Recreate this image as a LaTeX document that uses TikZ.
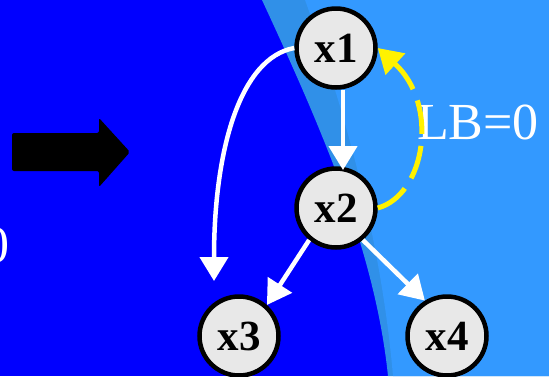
\documentclass[tikz,border=0pt]{standalone}
\usepackage{fontspec}
\setmainfont{Liberation Serif}
\usetikzlibrary{arrows.meta}
\definecolor{bgblue}{HTML}{0000FF}
\definecolor{lightblue}{HTML}{3399FF}
\definecolor{bandblue}{HTML}{3090E8}
\definecolor{nodegray}{HTML}{E8E8E8}
\begin{document}
\begin{tikzpicture}[x=1pt,y=-1pt,
  vnode/.style={circle,draw=black,line width=4.5pt,fill=nodegray,minimum size=79pt,inner sep=0pt,font=\fontsize{43}{43}\selectfont\bfseries},
  warrow/.style={draw=white,line width=4.5pt,-{Triangle[length=24pt,width=28pt]}},
  yarrow/.style={draw=yellow,line width=5pt,dash pattern=on 34pt off 12pt,-{Triangle[length=24pt,width=28pt]}},
  lbl/.style={text=white,font=\fontsize{52}{52}\selectfont,inner sep=0pt}]
\useasboundingbox (0,0) rectangle (549,376);
\fill[bgblue] (0,0) rectangle (549,376);
\fill[bandblue] (262,0) .. controls (320,125) and (375,250) .. (388,376) -- (549,376) -- (549,0) -- cycle;
\fill[lightblue] (305,0) .. controls (350,125) and (382,250) .. (393,376) -- (549,376) -- (549,0) -- cycle;
% block arrow
\fill[black,rounded corners=2pt] (12,133) -- (99,133) -- (99,118) -- (130,152) -- (99,187) -- (99,171) -- (12,171) -- cycle;
% text
\node[lbl,anchor=base east] (zero) at (10,262) {0};
\node[lbl,anchor=base west] (lb) at (417,139) {LB=0};
% nodes
\node[vnode] (x1) at (336,48) {x1};
\node[vnode] (x2) at (336,208) {x2};
\node[vnode] (x3) at (239,336) {x3};
\node[vnode] (x4) at (447,336) {x4};
\coordinate (c3) at (214,281);
% arrows
\draw[warrow] (x1.south -| 343,0) -- (343,170);
\draw[warrow] (x2.230) -- (x3.48);
\draw[warrow] (x2.310) -- (x4.122);
\draw[warrow] (x1.west) .. controls (240,58) and (214,150) .. (c3);
\draw[yarrow] (x2.east) .. controls (425,195) and (440,105) .. (x1.east);
\end{tikzpicture}
\end{document}
